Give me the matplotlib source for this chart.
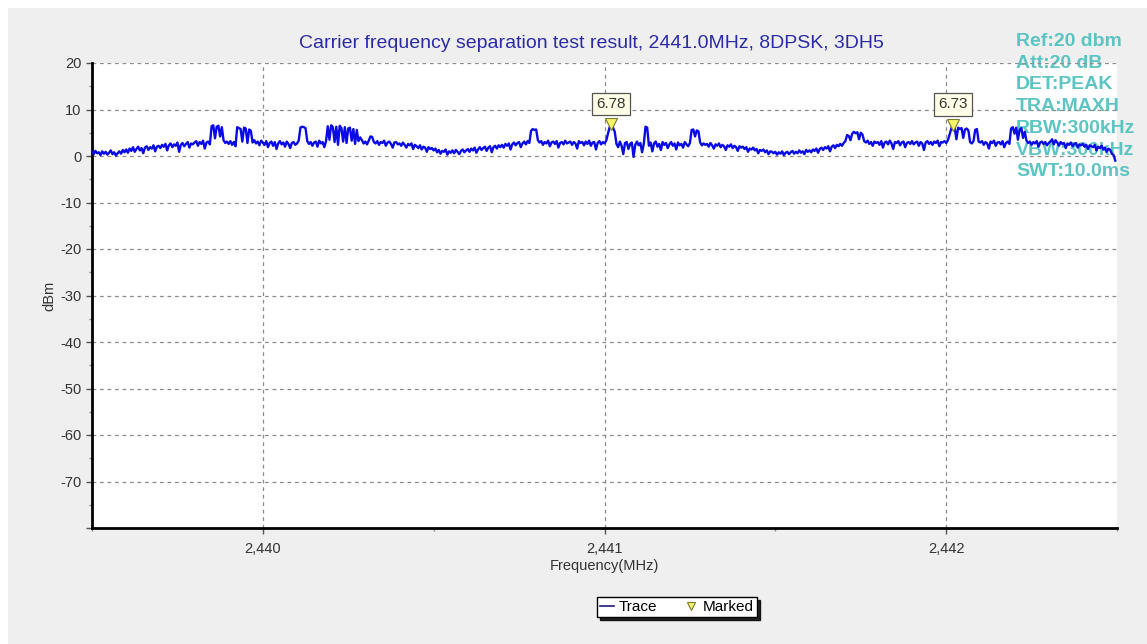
import numpy as np
import matplotlib.pyplot as plt
from matplotlib.patches import Rectangle
from matplotlib.ticker import FuncFormatter, MultipleLocator


# -----------------------------
# Sweep data (MAXH trace)
# -----------------------------

f_start = 2439.5      # MHz
f_step = 0.005        # MHz per trace point

trace_dbm = [
    0.9, 0.4, 1.1, 0.6, 0.8, 0.2, 1.0, 0.5, 0.9, 0.3, 0.7, 1.2, 0.4, 0.8, 0.1, 0.6, 1.0, 0.5, 1.3, 0.8,
    1.4, 0.7, 1.6, 1.1, 1.9, 0.9, 1.5, 2.0, 1.2, 1.7, 0.6, 1.8, 2.1, 1.3, 1.9, 1.6, 2.3, 1.0, 2.0, 2.2,
    1.7, 2.4, 2.0, 2.6, 1.2, 2.3, 2.7, 1.9, 2.5, 2.2, 2.9, 0.9, 2.4, 2.8, 2.1, 2.6, 3.0, 1.8, 2.7, 2.5,
    2.9, 3.2, 2.2, 3.0, 2.6, 3.3, 1.6, 2.9, 3.1, 2.5, 6.4, 6.6, 3.8, 6.3, 6.5, 4.2, 6.2, 3.4, 2.8, 3.1,
    2.6, 3.2, 2.4, 3.0, 2.1, 6.2, 6.0, 5.8, 3.1, 6.1, 5.9, 2.8, 5.7, 5.4, 2.9, 3.4, 2.7, 3.1, 2.3, 3.3,
    2.9, 2.4, 3.2, 1.9, 2.8, 3.1, 2.2, 3.0, 1.5, 2.7, 3.2, 2.5, 2.9, 2.0, 3.1, 2.6, 1.7, 2.8, 3.0, 2.4,
    2.7, 3.3, 6.1, 6.3, 6.2, 6.0, 3.2, 2.6, 3.0, 2.2, 2.9, 3.1, 2.0, 3.3, 2.7, 3.0, 1.9, 3.2, 6.4, 3.5,
    6.6, 6.2, 3.0, 6.3, 2.4, 6.5, 6.0, 3.1, 6.2, 2.8, 5.9, 6.1, 3.3, 5.8, 2.6, 5.6, 3.2, 4.0, 3.4, 2.7,
    3.1, 2.5, 3.3, 4.2, 4.1, 3.0, 2.7, 3.2, 2.4, 3.0, 2.8, 3.3, 2.2, 2.9, 3.1, 2.6, 1.8, 2.9, 3.0, 2.5,
    2.7, 2.2, 2.9, 2.4, 1.8, 2.6, 2.3, 2.7, 1.5, 2.4, 2.1, 1.7, 2.3, 1.4, 2.0, 1.8, 0.9, 1.9, 1.5, 1.7,
    1.2, 1.6, 0.8, 1.3, 0.5, 1.1, 0.9, 1.4, 0.3, 1.0, 0.7, 1.2, 0.6, 1.3, 0.9, 0.4, 1.1, 1.4, 0.8, 1.2,
    1.5, 0.9, 1.6, 1.2, 1.8, 0.7, 1.4, 1.9, 1.3, 1.7, 2.0, 1.1, 1.8, 2.1, 0.8, 1.9, 2.2, 1.6, 2.3, 1.9,
    2.4, 1.8, 2.6, 2.2, 2.7, 1.4, 2.5, 2.9, 2.3, 2.8, 3.0, 1.9, 2.7, 3.1, 2.5, 3.2, 2.8, 5.4, 5.8, 5.6,
    5.7, 3.4, 2.9, 3.2, 2.4, 3.0, 2.7, 3.3, 2.1, 2.9, 3.1, 2.6, 3.2, 1.8, 2.8, 3.0, 2.5, 3.3, 2.7, 2.9,
    3.1, 2.4, 3.0, 2.7, 1.6, 3.2, 2.8, 3.0, 2.3, 3.1, 2.6, 3.3, 2.2, 2.9, 3.0, 1.4, 2.8, 3.2, 2.5, 3.0,
    2.7, 3.3, 4.8, 6.2, 6.78, 6.1, 5.2, 2.6, 1.9, 3.1, 2.2, 0.4, 2.8, 3.0, 1.5, 2.6, 2.9, -0.2, 2.4, 3.1,
    2.3, 2.8, 0.8, 2.6, 6.3, 6.1, 2.2, 2.9, 1.0, 2.7, 3.1, 2.0, 2.6, 1.3, 3.0, 2.4, 2.8, 1.7, 2.5, 3.0,
    2.2, 2.7, 1.4, 2.9, 2.3, 2.6, 1.8, 3.0, 2.5, 2.1, 2.8, 5.6, 5.7, 4.2, 5.5, 5.3, 2.9, 2.3, 2.7, 2.4,
    2.6, 2.0, 2.8, 2.3, 1.6, 2.5, 2.2, 2.7, 1.9, 2.4, 2.1, 1.3, 2.3, 2.0, 2.5, 1.7, 2.2, 1.9, 1.1, 2.1,
    1.8, 2.0, 1.5, 1.9, 0.9, 1.6, 1.4, 1.8, 1.2, 1.5, 0.6, 1.3, 1.1, 1.4, 0.8, 1.2, 0.4, 1.0, 0.9, 0.6,
    0.9, 0.3, 0.8, 0.5, 1.0, 0.2, 0.7, 0.9, 0.4, 0.8, 1.1, 0.5, 0.9, 0.6, 1.2, 0.7, 1.0, 0.4, 1.3, 0.9,
    1.2, 0.8, 1.4, 1.1, 1.6, 0.7, 1.5, 1.8, 1.3, 1.9, 1.6, 2.1, 1.0, 2.0, 2.3, 1.7, 2.4, 2.1, 2.6, 2.2,
    2.8, 3.2, 4.5, 4.3, 3.4, 4.8, 5.2, 4.9, 5.1, 3.6, 5.0, 4.6, 3.2, 2.9, 3.3, 2.6, 3.0, 2.2, 3.1, 2.8,
    3.0, 2.4, 3.2, 1.8, 2.9, 3.1, 2.5, 3.3, 2.7, 1.5, 3.0, 2.8, 3.2, 2.3, 2.9, 3.1, 1.9, 2.8, 3.0, 2.6,
    3.2, 2.5, 2.9, 3.1, 2.2, 3.0, 2.7, 1.3, 2.9, 3.2, 2.6, 3.0, 2.4, 3.1, 2.8, 3.3, 2.1, 3.0, 2.9, 3.2,
    2.8, 3.4, 4.6, 5.9, 6.73, 6.0, 3.6, 6.1, 5.8, 6.0, 3.9, 5.7, 5.9, 5.5, 3.0, 2.7, 3.2, 5.6, 5.8, 3.1,
    2.9, 3.2, 2.4, 3.0, 2.7, 1.6, 3.1, 2.8, 3.3, 2.2, 2.9, 3.0, 2.5, 3.2, 1.9, 2.8, 3.1, 2.6, 5.9, 6.2,
    4.8, 6.1, 3.5, 5.6, 6.0, 3.9, 5.2, 3.3, 2.8, 3.1, 2.4, 3.0, 2.7, 3.2, 2.0, 2.9, 3.1, 2.6, 3.0, 2.3,
    2.8, 3.1, 3.6, 2.5, 3.4, 2.9, 2.2, 3.0, 2.6, 2.8, 1.7, 2.7, 2.4, 2.9, 2.1, 2.6, 2.8, 1.8, 2.5, 2.3,
    2.6, 2.0, 2.4, 1.5, 2.3, 2.1, 1.9, 2.4, 1.2, 2.0, 1.7, 2.2, 1.4, 1.8, 0.9, 1.6, 1.3, 0.5, 0.2, -1.0,
]

# Marker readouts (MHz, dBm)
marker_freq = [2441.02, 2442.02]
marker_level = [6.78, 6.73]

# Analyzer settings readout
settings = ["Ref:20 dbm", "Att:20 dB", "DET:PEAK", "TRA:MAXH",
            "RBW:300kHz", "VBW:300kHz", "SWT:10.0ms"]

title = "Carrier frequency separation test result, 2441.0MHz, 8DPSK, 3DH5"

freq = f_start + f_step * np.arange(len(trace_dbm))


# -----------------------------
# Figure
# -----------------------------

plt.rcParams["font.family"] = ["Liberation Sans", "DejaVu Sans"]

W, H = 1147, 644
fig = plt.figure(figsize=(W / 100, H / 100), dpi=100, facecolor="white")

# gray panel behind the chart
fig.patches.append(Rectangle((8 / W, 0), 1 - 8 / W, 1 - 8 / H,
                             transform=fig.transFigure, facecolor="#efefef",
                             edgecolor="none", zorder=-10))

ax = fig.add_axes([92 / W, 1 - 528 / H, (1117 - 92) / W, (528 - 63) / H])
ax.set_facecolor("white")

ax.set_xlim(2439.5, 2442.5)
ax.set_ylim(-80, 20)

for side in ["top", "right"]:
    ax.spines[side].set_visible(False)
for side in ["left", "bottom"]:
    ax.spines[side].set_linewidth(2)
    ax.spines[side].set_color("black")

ax.xaxis.set_major_locator(MultipleLocator(1))
ax.xaxis.set_minor_locator(MultipleLocator(0.5))
ax.xaxis.set_major_formatter(FuncFormatter(lambda v, p: f"{v:,.0f}"))
ax.yaxis.set_major_locator(MultipleLocator(10))
ax.yaxis.set_minor_locator(MultipleLocator(5))
ax.yaxis.set_major_formatter(
    FuncFormatter(lambda v, p: "" if v <= -80 else f"{v:.0f}"))

ax.tick_params(axis="both", which="major", length=4, width=1,
               labelsize=10.5, labelcolor="#333333", color="#555555")
ax.tick_params(axis="both", which="minor", length=2, width=1, color="#888888")
ax.tick_params(axis="x", pad=6)

ax.grid(True, which="major", linestyle=(0, (3, 3)), color="#8c8c8c",
        linewidth=0.9)

ax.set_xlabel("Frequency(MHz)", fontsize=10.5, color="#333333", labelpad=2)
ax.set_ylabel("dBm", fontsize=10.5, color="#333333", labelpad=3)

fig.text(591 / W, 1 - 43 / H, title, ha="center", va="center",
         fontsize=14, color="#2b2ba8")

# settings readout, drawn under the trace
for k, s in enumerate(settings):
    ax.text(1016 / W, 1 - (41.5 + 21.7 * k) / H, s, transform=fig.transFigure,
            ha="left", va="center", fontsize=14, fontweight="bold",
            color="#5cc4c2", zorder=1, clip_on=False)

trace_line, = ax.plot(freq, trace_dbm, color="#0a0ae6", linewidth=1.7,
                      zorder=3, label="Trace")

marks, = ax.plot(marker_freq, marker_level, linestyle="none", marker="v",
                 markersize=8, markerfacecolor="#f5f56a",
                 markeredgecolor="#7a7a30", markeredgewidth=0.8,
                 zorder=5, label="Marked")

for mf, ml in zip(marker_freq, marker_level):
    ax.text(mf, ml + 4.4, f"{ml:.2f}", ha="center", va="center",
            fontsize=11, color="#333333", zorder=6,
            bbox=dict(boxstyle="square,pad=0.28", facecolor="#ffffe8",
                      edgecolor="#555555", linewidth=0.9))

leg = fig.legend(handles=[trace_line, marks], loc="center",
                 bbox_to_anchor=(677 / W, 1 - 607 / H), ncol=2,
                 fontsize=11, frameon=True, fancybox=False,
                 shadow={"color": "black", "alpha": 0.85},
                 handlelength=0.9, handletextpad=0.3, columnspacing=1.8,
                 borderpad=0.2, markerscale=0.8)
leg.get_frame().set_edgecolor("black")
leg.get_frame().set_linewidth(1.0)
leg.get_lines()[0].set_color("#1a1a80")
leg.get_lines()[0].set_linewidth(1.2)

fig.savefig("out.png", dpi=100, facecolor=fig.get_facecolor())
